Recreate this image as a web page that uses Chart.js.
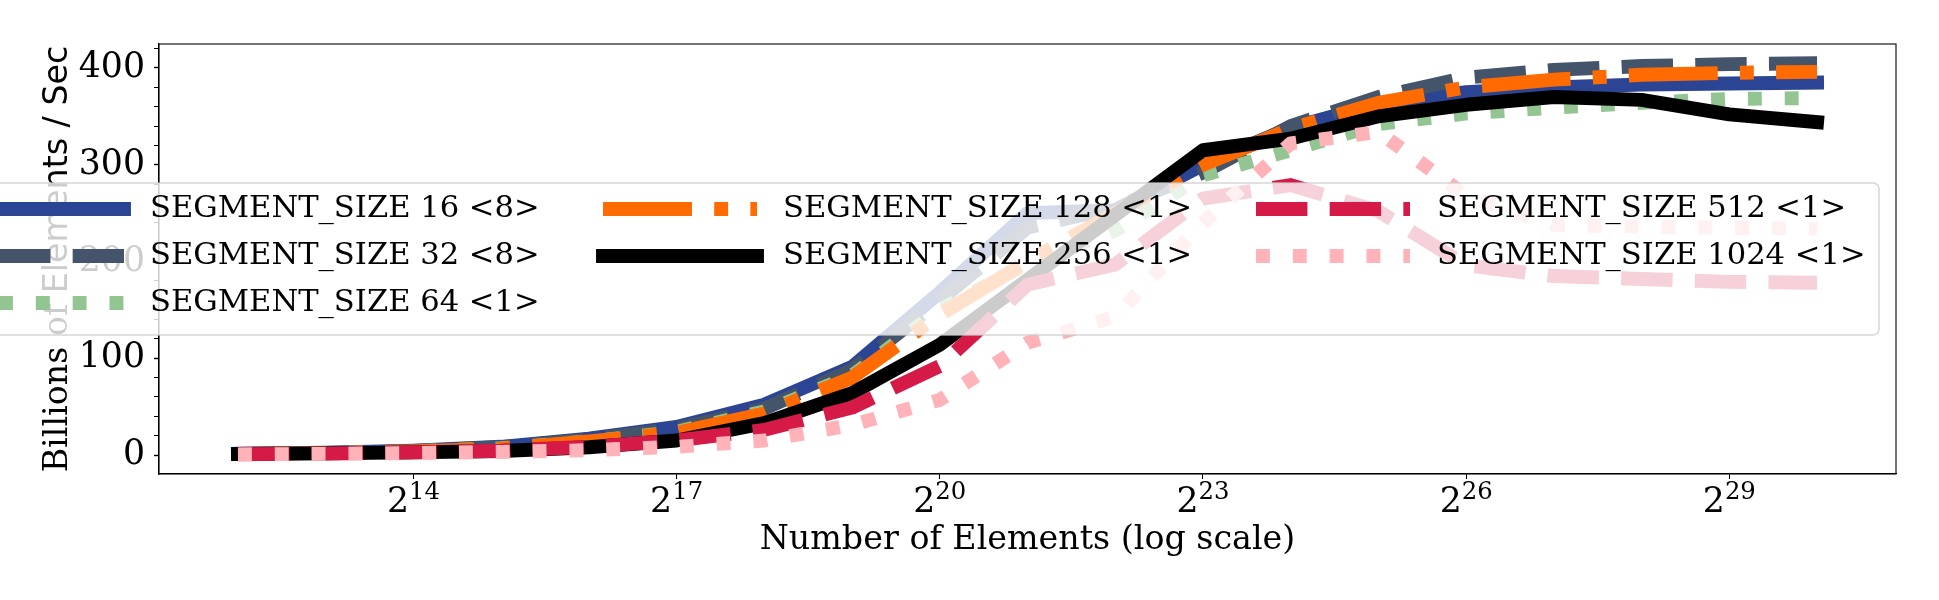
<!DOCTYPE html>
<html>
<head>
<meta charset="utf-8">
<title>Billions of Elements / Sec by SEGMENT_SIZE</title>
<script src="https://cdn.jsdelivr.net/npm/chart.js@4.4.1/dist/chart.umd.min.js"></script>
<style>
  html, body { margin: 0; padding: 0; background: #ffffff; }
  .container { position: relative; width: 1939px; height: 600px; }
</style>
</head>
<body>
<div class="container"><canvas id="chart"></canvas></div>
<script>
// number of elements (2^12 .. 2^30)
var elementCounts = [4096, 8192, 16384, 32768, 65536, 131072, 262144, 524288, 1048576,
    2097152, 4194304, 8388608, 16777216, 33554432, 67108864, 134217728, 268435456,
    536870912, 1073741824];

// billions of elements / sec
var seg16   = [1.3, 2.4, 4.5, 8.5, 17, 29, 52, 91, 168, 250, 253, 300, 338, 363, 375, 380, 383, 384, 385];
var seg32   = [1.2, 2.2, 4.2, 8, 16, 27, 48, 88, 160, 235, 256, 292, 340, 370, 390, 398, 402, 404, 405];
var seg64   = [1.1, 2.0, 3.8, 7, 14, 24, 45, 82, 150, 198, 232, 289, 315, 342, 353, 359, 364, 368, 369];
var seg128  = [1.2, 2.0, 3.8, 6.5, 14, 23, 43, 80, 145, 200, 250, 300, 337, 364, 380, 388, 393, 395, 396];
var seg256  = [1.0, 1.7, 2.7, 4.2, 8, 15, 33, 64, 114, 181, 248, 315, 327, 350, 362, 370, 367, 352, 344];
var seg512  = [0.8, 1.5, 2.8, 4.5, 8.5, 15, 26, 49, 92, 176, 197, 265, 279, 252, 196, 185, 182, 179, 178];
var seg1024 = [0.7, 1.2, 2.0, 3.2, 5, 8.5, 15, 31, 57, 116, 143, 240, 322, 334, 268, 238, 236, 235, 234];

var seriesLabels = ['SEGMENT_SIZE 16 <8>', 'SEGMENT_SIZE 32 <8>', 'SEGMENT_SIZE 64 <1>',
    'SEGMENT_SIZE 128 <1>', 'SEGMENT_SIZE 256 <1>', 'SEGMENT_SIZE 512 <1>', 'SEGMENT_SIZE 1024 <1>'];
var seriesValues = [seg16, seg32, seg64, seg128, seg256, seg512, seg1024];

var xTicks = [16384, 131072, 1048576, 8388608, 67108864, 536870912];
var xTickBase = '2';
var xTickExponents = ['14', '17', '20', '23', '26', '29'];
var yTicks = [0, 20, 40, 60, 80, 100, 120, 140, 160, 180, 200, 220, 240, 260, 280, 300, 320, 340, 360, 380, 400, 420];

// the y label mixes a serif and a sans part, as in the original figure
var yTitleParts = ['Billions of ', 'Elements / Sec'];
var xTitle = 'Number of Elements (log scale)';

// line styles (matplotlib-like, linewidth 13.9px)
var LW = 13.9;
var DASHED = [3.7 * LW, 1.6 * LW];
var DOTTED = [1 * LW, 1.65 * LW];
var DASHDOT = [6.4 * LW, 1.6 * LW, 1 * LW, 1.6 * LW];
var seriesColors = ['#2B4594', '#44546A', '#92C592', '#FF6B00', '#000000', '#D51A48', '#FFB2B7'];
var seriesDashes = [[], DASHED, DOTTED, DASHDOT, [], DASHED, DOTTED];

var SERIF = "'DejaVu Serif', 'Liberation Serif', serif";
var SANS = "'DejaVu Sans', 'Liberation Sans', sans-serif";

function buildDatasets() {
    var sets = [];
    for (var i = 0; i < seriesValues.length; i++) {
        var vals = seriesValues[i];
        var pts = [];
        for (var j = 0; j < elementCounts.length; j++) {
            pts.push({x: elementCounts[j], y: vals[j]});
        }
        sets.push({
            label: seriesLabels[i],
            data: pts,
            borderColor: seriesColors[i],
            backgroundColor: seriesColors[i],
            borderWidth: LW,
            borderDash: seriesDashes[i],
            borderCapStyle: seriesDashes[i].length ? 'butt' : 'square',
            borderJoinStyle: 'round',
            pointRadius: 0,
            tension: 0,
            fill: false,
            // later series are drawn on top, like the original plot
            order: seriesValues.length - i
        });
    }
    return sets;
}

// frame, x tick labels with superscripts and the y label
var framePlugin = {
    id: 'frame',
    afterDatasetsDraw: function(chart) {
        var a = chart.chartArea;
        var ctx = chart.ctx;
        var xs = chart.scales.x;
        ctx.save();
        ctx.strokeStyle = '#000';
        ctx.lineWidth = 1.1;
        ctx.strokeRect(a.left, a.top, a.right - a.left, a.bottom - a.top);

        ctx.fillStyle = '#000';
        ctx.textBaseline = 'alphabetic';
        ctx.textAlign = 'left';
        for (var i = 0; i < xTicks.length; i++) {
            var px = xs.getPixelForValue(xTicks[i]);
            ctx.font = '34.7px ' + SERIF;
            var wb = ctx.measureText(xTickBase).width;
            ctx.font = '24.3px ' + SERIF;
            var we = ctx.measureText(xTickExponents[i]).width;
            var x0 = px - (wb + we) / 2;
            ctx.font = '34.7px ' + SERIF;
            ctx.fillText(xTickBase, x0, xs.top + 38);
            ctx.font = '24.3px ' + SERIF;
            ctx.fillText(xTickExponents[i], x0 + wb, xs.top + 25);
        }

        // rotated y label
        ctx.translate(67, (a.top + a.bottom) / 2);
        ctx.rotate(-Math.PI / 2);
        ctx.font = '33.3px ' + SERIF;
        var w1 = ctx.measureText(yTitleParts[0]).width;
        ctx.font = '33.3px ' + SANS;
        var w2 = ctx.measureText(yTitleParts[1]).width;
        var start = -(w1 + w2) / 2;
        ctx.font = '33.3px ' + SERIF;
        ctx.fillText(yTitleParts[0], start, 0);
        ctx.font = '33.3px ' + SANS;
        ctx.fillText(yTitleParts[1], start + w1, 0);
        ctx.restore();
    }
};

// 3-column legend laid over the chart, filled column by column
var legendPlugin = {
    id: 'overlayLegend',
    afterDraw: function(chart) {
        var ctx = chart.ctx;
        var box = {left: -40, top: 183, right: 1879, bottom: 335};
        var colHandle = [-30, 603, 1256];
        var colText = [150, 783, 1437];
        var rowY = [209, 256, 303];
        var handleLen = 154;

        ctx.save();
        ctx.beginPath();
        if (ctx.roundRect) {
            ctx.roundRect(box.left, box.top, box.right - box.left, box.bottom - box.top, 6);
        } else {
            ctx.rect(box.left, box.top, box.right - box.left, box.bottom - box.top);
        }
        ctx.fillStyle = 'rgba(255,255,255,0.8)';
        ctx.fill();
        ctx.strokeStyle = 'rgba(204,204,204,0.8)';
        ctx.lineWidth = 1.5;
        ctx.stroke();

        var sets = chart.data.datasets;
        for (var i = 0; i < sets.length; i++) {
            var col = i < 3 ? 0 : (i < 5 ? 1 : 2);
            var row = i < 3 ? i : (i < 5 ? i - 3 : i - 5);
            var ds = sets[i];
            var y = rowY[row];
            var end = colHandle[col] + handleLen;
            // handles cut by the canvas edge restart their dash pattern there
            var begin = Math.max(colHandle[col], -1);

            ctx.beginPath();
            ctx.setLineDash(ds.borderDash);
            ctx.lineDashOffset = 0;
            ctx.lineCap = ds.borderCapStyle;
            ctx.strokeStyle = ds.borderColor;
            ctx.lineWidth = ds.borderWidth;
            ctx.moveTo(begin, y);
            ctx.lineTo(end, y);
            ctx.stroke();

            ctx.setLineDash([]);
            ctx.fillStyle = '#000';
            ctx.font = '30.6px ' + SERIF;
            ctx.textAlign = 'left';
            ctx.textBaseline = 'middle';
            ctx.fillText(ds.label, colText[col], y);
        }
        ctx.restore();
    }
};

function drawChart() {
    var ctx = document.getElementById('chart').getContext('2d');
    new Chart(ctx, {
        type: 'line',
        data: {datasets: buildDatasets()},
        plugins: [framePlugin, legendPlugin],
        options: {
            responsive: true,
            maintainAspectRatio: false,
            animation: false,
            devicePixelRatio: 1,
            layout: {padding: {top: 44, right: 43, left: 0, bottom: 0}},
            plugins: {
                legend: {display: false},
                tooltip: {enabled: false}
            },
            scales: {
                x: {
                    type: 'logarithmic',
                    min: Math.pow(2, 11.1),
                    max: Math.pow(2, 30.9),
                    afterBuildTicks: function(scale) {
                        scale.ticks = xTicks.map(function(v) { return {value: v}; });
                    },
                    afterFit: function(scale) { scale.height = 126; },
                    grid: {drawOnChartArea: false, drawTicks: true, tickLength: 5, tickColor: '#000', tickWidth: 1.1},
                    border: {display: true, color: '#000', width: 1.1},
                    ticks: {
                        autoSkip: false,
                        maxRotation: 0,
                        padding: 0,
                        font: {family: SERIF, size: 34.7},
                        // labels with superscripts are drawn by the frame plugin
                        callback: function() { return ''; }
                    },
                    title: {
                        display: true,
                        text: xTitle,
                        color: '#000',
                        font: {family: SERIF, size: 33.3, lineHeight: 1.2},
                        padding: {top: 0, bottom: 40}
                    }
                },
                y: {
                    type: 'linear',
                    min: -19.6,
                    max: 424.8,
                    afterBuildTicks: function(scale) {
                        scale.ticks = yTicks.map(function(v) { return {value: v}; });
                    },
                    afterFit: function(scale) { scale.width = 159; },
                    grid: {
                        drawOnChartArea: false,
                        drawTicks: true,
                        tickLength: 5,
                        tickColor: '#000',
                        tickWidth: function(c) { return c.tick && c.tick.value % 100 === 0 ? 1.4 : 1; }
                    },
                    border: {display: true, color: '#000', width: 1.1},
                    ticks: {
                        autoSkip: false,
                        padding: 9,
                        color: '#000',
                        font: {family: SERIF, size: 34.7},
                        callback: function(value) { return value % 100 === 0 ? String(value) : ''; }
                    },
                    title: {display: false}
                }
            }
        }
    });
}

drawChart();
</script>
</body>
</html>
